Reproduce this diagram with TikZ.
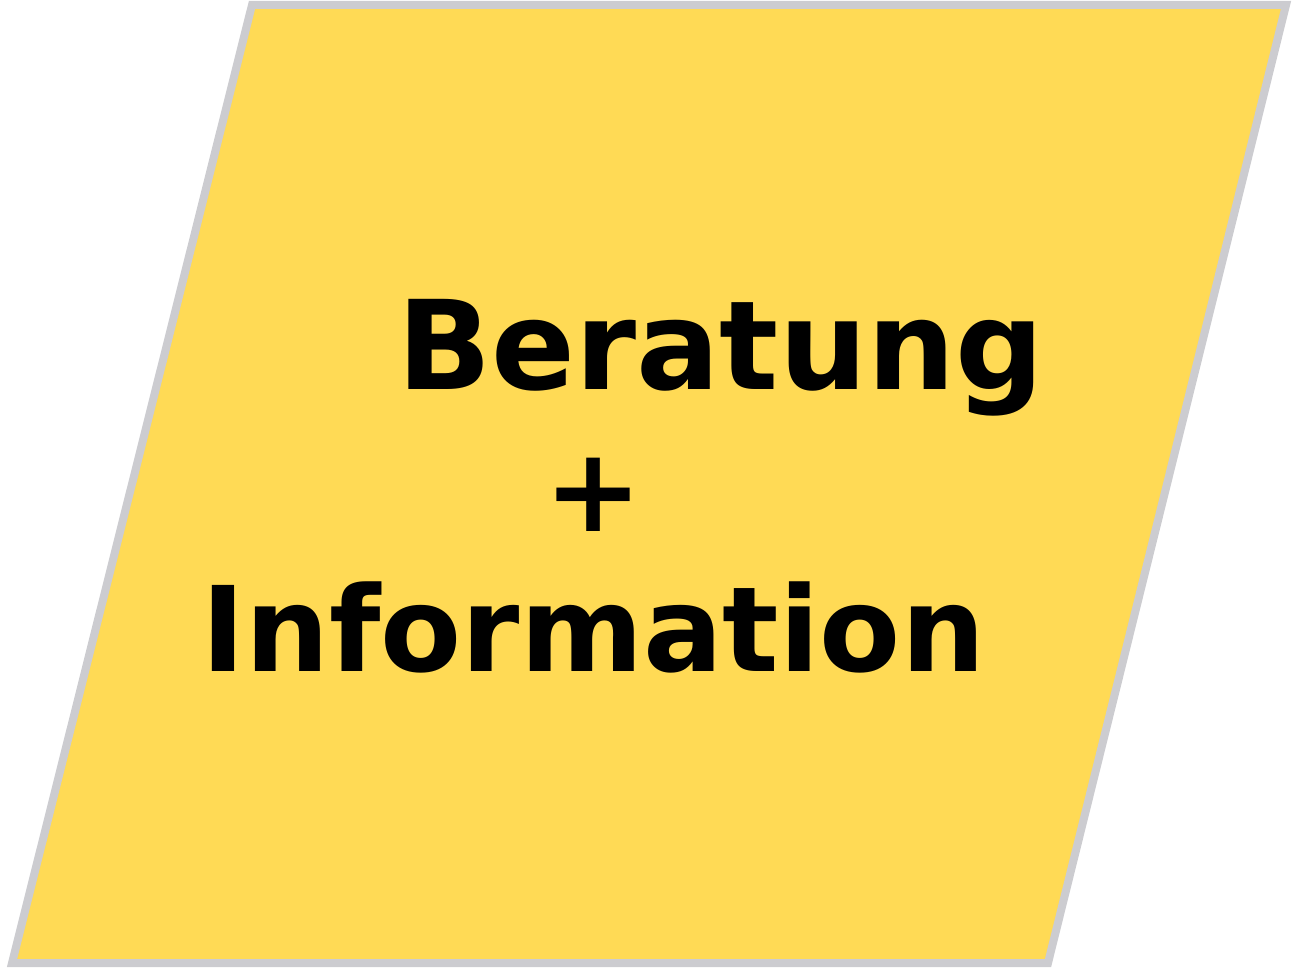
\documentclass[tikz,border=0pt]{standalone}
\usepackage{fontspec}
\setmainfont{DejaVu Sans}
\usepackage{tikz}

\begin{document}
\begin{tikzpicture}[x=0.75pt,y=0.75pt,yscale=-1,xscale=1]
\useasboundingbox (0,0) rectangle (1296,969);

%Shape: Parallelogram [id:beratung_box]
\draw  [color={rgb, 255:red, 204; green, 204; blue, 208 }  ,draw opacity=1 ][fill={rgb, 255:red, 255; green, 218; blue, 85 }  ,fill opacity=1 ][line width=6]  (252,5) -- (1286,5) -- (1048,963) -- (12,963) -- cycle ;

% Text Node
\draw (397,390) node [anchor=base west][inner sep=0pt]  [font=\fontsize{92.8}{110}\selectfont\bfseries] (beratung) {Beratung};
% Text Node
\draw (594,532) node [anchor=base][inner sep=0pt]  [font=\fontsize{87.75}{105}\selectfont\bfseries] (plus) {+};
% Text Node
\draw (201,671) node [anchor=base west][inner sep=0pt]  [font=\fontsize{88.6}{105}\selectfont\bfseries] (information) {Information};

\end{tikzpicture}
\end{document}
